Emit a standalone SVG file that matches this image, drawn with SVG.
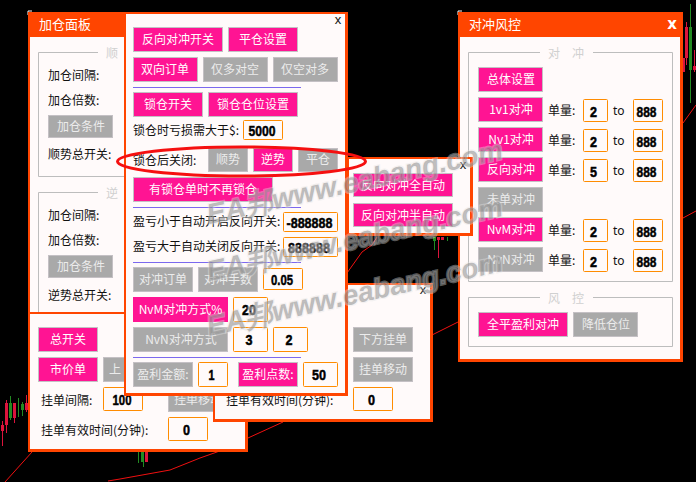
<svg xmlns="http://www.w3.org/2000/svg" width="696" height="482" viewBox="0 0 696 482">
<style>
text{font-family:"Noto Sans CJK SC","Liberation Sans",sans-serif;font-size:12px;fill:#111}
.o{fill:#ff4500}
.p{fill:#fffafa}
.tb{fill:#ff4500}
.tt{fill:#fff;font-size:13px}
.b{stroke:#c4c0c4;stroke-width:1}
.pk{fill:#ff1493}
.gr{fill:#a9a9a9}
.bt{text-anchor:middle;fill:#fff}
.bg{text-anchor:middle;fill:#ececec}
.in{fill:#fffafa;stroke:#ff8c00;stroke-width:1}
.n{font-family:"Liberation Sans",sans-serif;font-weight:bold;font-size:15px;text-anchor:middle;fill:#000;stroke:#000;stroke-width:.5}
.fs{fill:none;stroke:#bdbdbd;stroke-width:1}
.lg{fill:#d0d0d0;font-size:12px}
.dv{stroke:#7b68ee;stroke-width:1}
.x{font-family:"Liberation Sans",sans-serif;font-size:13px;text-anchor:middle;fill:#111}
.c{fill:#dc143c}.g{fill:#228b22}
.cl{stroke:#dc143c;stroke-width:1}.gl{stroke:#228b22;stroke-width:1}
.wm{font-family:"Liberation Sans",sans-serif;font-weight:bold;font-style:italic;font-size:28px;fill:#8c8c8c;fill-opacity:.55;stroke:#e4e4e4;stroke-opacity:.4;stroke-width:2.5;paint-order:stroke}
.rl{fill:none;stroke:#f01010;stroke-width:1}
.to{font-family:"Noto Sans",sans-serif}
</style>
<rect width="696" height="482" fill="#000"/>
<g id="chart">
<path class="rl" d="M5 482L32 452M108 481L120 479L170 470L200 458L217 452L248 438L283 422M347 273L362 252L372 245L377 237M432 335L458 322M683 123L696 105M683 218L696 211"/>
<path class="cl" d="M2.500 421V446M6.500 400V433M14.500 403V423M26.500 395V412M686.500 22V65M694.500 50V72M438.500 237V258M145.500 452V462"/>
<path class="gl" d="M10.500 396V420M18.500 398V417M22.500 402V416M690.500 4V103M143.500 452V467M138.500 452V463M434.500 237V250M447.500 237V241"/>
<rect class="c" x="1" y="425" width="3" height="6"/><rect class="c" x="5" y="403" width="3" height="22"/><rect class="g" x="9" y="403" width="3" height="15"/><rect class="c" x="13" y="403" width="3" height="15"/><rect class="g" x="21" y="404" width="3" height="6"/><rect class="c" x="25" y="403" width="3" height="7"/>
<rect class="c" x="685" y="27" width="3" height="31"/><rect class="g" x="689" y="27" width="3" height="43"/><rect class="c" x="693" y="66" width="3" height="4"/><rect class="c" x="683" y="58" width="2" height="14"/>
<rect class="g" x="141" y="452" width="3" height="10"/><rect class="c" x="145" y="452" width="3" height="10"/>
<rect class="g" x="433" y="237" width="3" height="4"/><rect class="c" x="437" y="237" width="3" height="3"/><rect class="c" x="441" y="237" width="3" height="3"/>
</g>

<g id="panel-jiacang">
<path d="M28 15V11H32" fill="none" stroke="#fff" stroke-width="1"/>
<rect class="o" x="28" y="12" width="102" height="302"/>
<rect class="p" x="30" y="37" width="100" height="275"/>
<text class="tt" x="39" y="29">加仓面板</text>
<path class="fs" d="M98 52.500H38.500V176.500H130"/>
<text class="lg" x="106" y="58">顺</text>
<text x="48" y="80">加仓间隔:</text><text x="48" y="105">加仓倍数:</text>
<rect class="b gr" x="48.500" y="115.500" width="64" height="22"/><text class="bg" x="81" y="131">加仓条件</text>
<text x="48" y="159">顺势总开关:</text>
<path class="fs" d="M98 192.500H38.500V312"/>
<text class="lg" x="106" y="198">逆</text>
<text x="48" y="220">加仓间隔:</text><text x="48" y="245">加仓倍数:</text>
<rect class="b gr" x="48.500" y="255.500" width="64" height="22"/><text class="bg" x="81" y="271">加仓条件</text>
<text x="48" y="300">逆势总开关:</text>
</g>

<g id="panel-main">
<rect class="o" x="28" y="312" width="220" height="140"/>
<rect class="p" x="30" y="314" width="215" height="135"/>
<rect class="b pk" x="38.500" y="327.500" width="59" height="24"/><text class="bt" x="68" y="344">总开关</text>
<rect class="b pk" x="38.500" y="357.500" width="59" height="24"/><text class="bt" x="68" y="374">市价单</text>
<rect class="b gr" x="103.500" y="357.500" width="59" height="24"/><text class="bg" x="115" y="374">上</text>
<text x="41" y="405">挂单间隔:</text>
<rect class="in" x="103.500" y="387.500" width="39" height="23" rx="1"/><text class="n" x="122" y="405" textLength="19" lengthAdjust="spacingAndGlyphs">100</text>
<rect class="b gr" x="168.500" y="387.500" width="59" height="24"/><text class="bg" x="198" y="404">挂单移动</text>
<text x="41" y="435">挂单有效时间(分钟):</text>
<rect class="in" x="168.500" y="417.500" width="39" height="23" rx="1"/><text class="n" x="186.500" y="435" textLength="7" lengthAdjust="spacingAndGlyphs">0</text>
</g>

<g id="panel-pending">
<rect class="o" x="213" y="283" width="220" height="139"/>
<rect class="p" x="215" y="285" width="215" height="134"/>
<text class="x" x="423" y="294">x</text>
<rect class="b gr" x="353.500" y="327.500" width="59" height="24"/><text class="bg" x="383" y="344">下方挂单</text>
<rect class="b gr" x="353.500" y="357.500" width="59" height="24"/><text class="bg" x="383" y="374">挂单移动</text>
<text x="226" y="405">挂单有效时间(分钟):</text>
<rect class="in" x="353.500" y="387.500" width="39" height="23" rx="1"/><text class="n" x="371.500" y="405" textLength="7" lengthAdjust="spacingAndGlyphs">0</text>
</g>

<g id="panel-hedge">
<rect class="o" x="124" y="12" width="224" height="384"/>
<rect class="p" x="126" y="14" width="219" height="379"/>
<text class="x" x="338" y="24">x</text>
<rect class="b pk" x="133.500" y="27.500" width="89" height="24"/><text class="bt" x="178" y="44">反向对冲开关</text>
<rect class="b pk" x="228.500" y="27.500" width="69" height="24"/><text class="bt" x="263" y="44">平仓设置</text>
<rect class="b pk" x="133.500" y="57.500" width="64" height="24"/><text class="bt" x="165" y="74">双向订单</text>
<rect class="b gr" x="203.500" y="57.500" width="64" height="24"/><text class="bg" x="235" y="74">仅多对空</text>
<rect class="b gr" x="273.500" y="57.500" width="64" height="24"/><text class="bg" x="305" y="74">仅空对多</text>
<path class="dv" d="M133 87.500H301"/>
<rect class="b pk" x="133.500" y="92.500" width="69" height="24"/><text class="bt" x="168" y="109">锁仓开关</text>
<rect class="b pk" x="208.500" y="92.500" width="89" height="24"/><text class="bt" x="253" y="109">锁仓仓位设置</text>
<text x="133" y="135">锁仓时亏损需大于$:</text>
<rect class="in" x="243.500" y="120.500" width="39" height="19" rx="1"/><text class="n" x="262" y="135.500" textLength="27" lengthAdjust="spacingAndGlyphs">5000</text>
<text x="133" y="165">锁仓后关闭:</text>
<rect class="b gr" x="208.500" y="148.500" width="39" height="23"/><text class="bg" x="228" y="164">顺势</text>
<rect class="b pk" x="253.500" y="148.500" width="39" height="23"/><text class="bt" x="273" y="164">逆势</text>
<rect class="b gr" x="298.500" y="148.500" width="39" height="23"/><text class="bg" x="318" y="164">平仓</text>
<rect class="b pk" x="133.500" y="177.500" width="139" height="24"/><text class="bt" x="203" y="194">有锁仓单时不再锁仓</text>
<path class="dv" d="M133 207.500H301"/>
<text x="133" y="226">盈亏小于自动开启反向开关:</text>
<rect class="in" x="283.500" y="212.500" width="54" height="19" rx="1"/><text class="n" x="309.500" y="228" textLength="46" lengthAdjust="spacingAndGlyphs">-888888</text>
<text x="133" y="251">盈亏大于自动关闭反向开关:</text>
<rect class="in" x="283.500" y="237.500" width="54" height="19" rx="1"/><text class="n" x="309" y="253" textLength="42" lengthAdjust="spacingAndGlyphs">888888</text>
<path class="dv" d="M133 262.500H301"/>
<rect class="b gr" x="133.500" y="267.500" width="59" height="24"/><text class="bg" x="163" y="284">对冲订单</text>
<rect class="b gr" x="198.500" y="267.500" width="59" height="24"/><text class="bg" x="228" y="284">对冲手数</text>
<rect class="in" x="263.500" y="268.500" width="39" height="21" rx="1"/><text class="n" x="282" y="285" textLength="22" lengthAdjust="spacingAndGlyphs">0.05</text>
<rect class="pk" x="133" y="297" width="95" height="25"/><text class="bt" x="180.500" y="314">NvM对冲方式%</text>
<rect class="in" x="233.500" y="297.500" width="34" height="24" rx="1"/><text class="n" x="249" y="315" textLength="14" lengthAdjust="spacingAndGlyphs">20</text>
<rect class="b gr" x="133.500" y="327.500" width="94" height="24"/><text class="bg" x="181" y="344">NvN对冲方式</text>
<rect class="in" x="233.500" y="327.500" width="34" height="24" rx="1"/><text class="n" x="249" y="345" textLength="7" lengthAdjust="spacingAndGlyphs">3</text>
<rect class="in" x="273.500" y="327.500" width="34" height="24" rx="1"/><text class="n" x="289" y="345" textLength="7" lengthAdjust="spacingAndGlyphs">2</text>
<path class="dv" d="M133 357.500H301"/>
<rect class="b gr" x="133.500" y="362.500" width="59" height="24"/><text class="bg" x="163" y="379">盈利金额:</text>
<rect class="in" x="198.500" y="362.500" width="29" height="24" rx="1"/><text class="n" x="211.500" y="380" textLength="6" lengthAdjust="spacingAndGlyphs">1</text>
<rect class="b pk" x="238.500" y="362.500" width="59" height="24"/><text class="bt" x="268" y="379">盈利点数:</text>
<rect class="in" x="303.500" y="362.500" width="34" height="24" rx="1"/><text class="n" x="319" y="380" textLength="14" lengthAdjust="spacingAndGlyphs">50</text>
</g>

<g id="panel-risk">
<path d="M458 15V11H462" fill="none" stroke="#fff" stroke-width="1"/>
<rect class="o" x="458" y="12" width="225" height="350"/>
<rect class="p" x="460" y="37" width="220" height="322"/>
<text class="tt" x="469" y="29">对冲风控</text>
<text x="672" y="29" style="font-family:'DejaVu Sans',sans-serif;font-size:15px;font-weight:bold;fill:#fff;text-anchor:middle">x</text>
<path class="fs" d="M540 52.500H468.500V281.500H672.500V52.500H593"/>
<text class="lg" x="548" y="58">对</text><text class="lg" x="572" y="58">冲</text>
<rect class="b pk" x="478.500" y="67.500" width="64" height="24"/><text class="bt" x="511" y="84">总体设置</text>
<rect class="b pk" x="478.500" y="97.500" width="64" height="24"/><text class="bt" x="511" y="114">1v1对冲</text>
<rect class="b pk" x="478.500" y="127.500" width="64" height="24"/><text class="bt" x="511" y="144">Nv1对冲</text>
<rect class="b pk" x="478.500" y="157.500" width="64" height="24"/><text class="bt" x="511" y="174">反向对冲</text>
<rect class="b gr" x="478.500" y="187.500" width="64" height="24"/><text class="bg" x="511" y="204">未单对冲</text>
<rect class="b pk" x="478.500" y="217.500" width="64" height="24"/><text class="bt" x="511" y="234">NvM对冲</text>
<rect class="b gr" x="478.500" y="247.500" width="64" height="24"/><text class="bg" x="511" y="264">NvN对冲</text>
<g id="risk-rows">
<text x="548" y="115">单量:</text><rect class="in" x="583.500" y="99.500" width="24" height="22" rx="1"/><text class="n" x="593.500" y="116.500" textLength="7" lengthAdjust="spacingAndGlyphs">2</text><text class="to" x="613" y="115">to</text><rect class="in" x="633.500" y="99.500" width="29" height="22" rx="1"/><text class="n" x="646.500" y="116.500" textLength="20" lengthAdjust="spacingAndGlyphs">888</text>
<text x="548" y="145">单量:</text><rect class="in" x="583.500" y="129.500" width="24" height="22" rx="1"/><text class="n" x="593.500" y="146.500" textLength="7" lengthAdjust="spacingAndGlyphs">2</text><text class="to" x="613" y="145">to</text><rect class="in" x="633.500" y="129.500" width="29" height="22" rx="1"/><text class="n" x="646.500" y="146.500" textLength="20" lengthAdjust="spacingAndGlyphs">888</text>
<text x="548" y="175">单量:</text><rect class="in" x="583.500" y="159.500" width="24" height="22" rx="1"/><text class="n" x="593.500" y="176.500" textLength="7" lengthAdjust="spacingAndGlyphs">5</text><text class="to" x="613" y="175">to</text><rect class="in" x="633.500" y="159.500" width="29" height="22" rx="1"/><text class="n" x="646.500" y="176.500" textLength="20" lengthAdjust="spacingAndGlyphs">888</text>
<text x="548" y="235">单量:</text><rect class="in" x="583.500" y="219.500" width="24" height="22" rx="1"/><text class="n" x="593.500" y="236.500" textLength="7" lengthAdjust="spacingAndGlyphs">2</text><text class="to" x="613" y="235">to</text><rect class="in" x="633.500" y="219.500" width="29" height="22" rx="1"/><text class="n" x="646.500" y="236.500" textLength="20" lengthAdjust="spacingAndGlyphs">888</text>
<text x="548" y="265">单量:</text><rect class="in" x="583.500" y="249.500" width="24" height="22" rx="1"/><text class="n" x="593.500" y="266.500" textLength="7" lengthAdjust="spacingAndGlyphs">2</text><text class="to" x="613" y="265">to</text><rect class="in" x="633.500" y="249.500" width="29" height="22" rx="1"/><text class="n" x="646.500" y="266.500" textLength="20" lengthAdjust="spacingAndGlyphs">888</text>
</g>
<path class="fs" d="M540 297.500H468.500V346.500H672.500V297.500H593"/>
<text class="lg" x="548" y="303">风</text><text class="lg" x="572" y="303">控</text>
<rect class="b pk" x="478.500" y="312.500" width="89" height="24"/><text class="bt" x="523" y="329">全平盈利对冲</text>
<rect class="b gr" x="573.500" y="312.500" width="64" height="24"/><text class="bg" x="606" y="329">降低仓位</text>
</g>

<g id="panel-auto">
<rect class="o" x="347" y="157" width="126" height="79"/>
<rect class="p" x="349" y="159" width="121" height="74"/>
<text class="x" x="463" y="169">x</text>
<rect class="b pk" x="353.500" y="173.500" width="99" height="23"/><text class="bt" x="403" y="190">反向对冲全自动</text>
<rect class="b pk" x="353.500" y="203.500" width="99" height="23"/><text class="bt" x="403" y="220">反向对冲半自动</text>
</g>

<g id="annotation">
<ellipse cx="241.500" cy="161.500" rx="124" ry="14.500" fill="none" stroke="#f51010" stroke-width="3"/>
</g>

<g id="watermark">
<text class="wm" transform="translate(209 224) rotate(-12.500)">EA邦www.eabang.com</text>
<text class="wm" transform="translate(209 281) rotate(-12.500)">EA邦www.eabang.com</text>
<text class="wm" transform="translate(209 336) rotate(-12.500)">EA邦www.eabang.com</text>
</g>
</svg>
